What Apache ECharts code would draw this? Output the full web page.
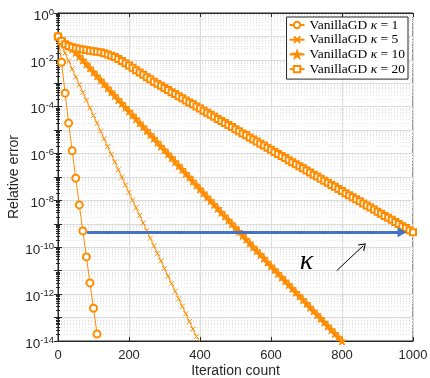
<!DOCTYPE html>
<html>
<head>
<meta charset="utf-8">
<script src="https://cdn.jsdelivr.net/npm/echarts@6/dist/echarts.min.js"></script>
<style>
  html, body { margin: 0; background: #fff; }
  #chart { width: 430px; height: 378px; }
</style>
</head>
<body>
<div id="chart"></div>
<script>
// relative error vs iteration, log10 values, one point every 10 iterations
const step = 10;
const seriesNames = ['VanillaGD κ = 1', 'VanillaGD κ = 5', 'VanillaGD κ = 10', 'VanillaGD κ = 20'];
const logErrK1 = [-1.0, -2.1, -3.42, -4.7, -5.88, -7.05, -8.19, -9.3, -10.41, -11.52, -12.6, -13.7];
const logErrK5 = [
  -1.0, -1.36, -1.71, -2.05, -2.39, -2.73, -3.06, -3.39, -3.72, -4.05,
  -4.38, -4.71, -5.04, -5.37, -5.7, -6.03, -6.36, -6.69, -7.01, -7.34,
  -7.66, -7.99, -8.31, -8.64, -8.96, -9.29, -9.61, -9.94, -10.26, -10.58,
  -10.91, -11.23, -11.55, -11.88, -12.2, -12.52, -12.84, -13.17, -13.49, -13.81,
  -14.05
];
const logErrK10 = [
  -1.0, -1.14, -1.27, -1.4, -1.54, -1.69, -1.85, -2.01, -2.18, -2.35,
  -2.52, -2.69, -2.86, -3.03, -3.2, -3.37, -3.53, -3.7, -3.86, -4.03,
  -4.19, -4.36, -4.52, -4.69, -4.86, -5.02, -5.19, -5.35, -5.52, -5.69,
  -5.85, -6.02, -6.18, -6.35, -6.52, -6.68, -6.85, -7.01, -7.18, -7.35,
  -7.51, -7.68, -7.85, -8.01, -8.18, -8.34, -8.51, -8.67, -8.84, -9.0,
  -9.17, -9.33, -9.5, -9.66, -9.82, -9.99, -10.15, -10.31, -10.47, -10.64,
  -10.8, -10.96, -11.12, -11.28, -11.44, -11.6, -11.76, -11.92, -12.08, -12.24,
  -12.4, -12.56, -12.72, -12.88, -13.04, -13.2, -13.36, -13.52, -13.68, -13.84,
  -14.0
];
const logErrK20 = [
  -1.0, -1.2, -1.33, -1.41, -1.46, -1.5, -1.53, -1.56, -1.58, -1.61,
  -1.63, -1.65, -1.68, -1.72, -1.77, -1.82, -1.88, -1.96, -2.05, -2.14,
  -2.24, -2.34, -2.44, -2.54, -2.64, -2.74, -2.83, -2.93, -3.02, -3.11,
  -3.2, -3.29, -3.38, -3.46, -3.55, -3.64, -3.73, -3.82, -3.9, -3.99,
  -4.08, -4.17, -4.26, -4.34, -4.43, -4.52, -4.61, -4.7, -4.78, -4.87,
  -4.96, -5.05, -5.14, -5.22, -5.31, -5.4, -5.49, -5.58, -5.66, -5.75,
  -5.84, -5.93, -6.02, -6.1, -6.19, -6.28, -6.37, -6.46, -6.54, -6.63,
  -6.72, -6.81, -6.9, -6.98, -7.07, -7.16, -7.25, -7.34, -7.42, -7.51,
  -7.6, -7.69, -7.78, -7.86, -7.95, -8.04, -8.13, -8.22, -8.3, -8.39,
  -8.48, -8.57, -8.66, -8.74, -8.83, -8.92, -9.01, -9.1, -9.18, -9.27,
  -9.36
];
const xTicks = [0, 200, 400, 600, 800, 1000];
// annotations: [iteration, log10 error]
const blueArrow = [[82, -9.36], [969, -9.36]];
const blackArrow = [[785, -11.0], [860, -9.93]];
const kappaLabel = [700, -10.6];

const orange = '#FF8C00';
const axisColor = '#262626';
const starPath = 'path://M5,0L6.2,3.6L10,3.6L6.9,5.9L8.1,9.5L5,7.3L1.9,9.5L3.1,5.9L0,3.6L3.8,3.6Z';
const crossPath = 'path://M0,0L10,10M10,0L0,10';
const chevronPath = 'path://M0,10L5,0L10,10L8.8,10.7L5,2.6L1.2,10.7Z';

const toPairs = (logs) => logs.map((e, i) => [i * step, Math.pow(10, e)]);
const toCoord = (p) => ({coord: [p[0], Math.pow(10, p[1])]});

const chart = echarts.init(document.getElementById('chart'));

const yLabel = {
  color: axisColor,
  margin: 4,
  formatter(v) {
    const e = Math.round(Math.log10(v));
    if (e % 2 !== 0) return '';
    return '{b|10}{s|' + e + '}';
  },
  rich: {
    b: {fontSize: 13.5, fontFamily: 'Liberation Sans', color: axisColor, padding: [6, 0, 0, 0]},
    s: {fontSize: 9.5, fontFamily: 'Liberation Sans', color: axisColor, padding: [0, 0, 2, 0]}
  }
};

const lineSeries = (name, logs, symbol, size, extra) => Object.assign({
  name,
  type: 'line',
  data: toPairs(logs),
  symbol,
  symbolSize: size,
  showSymbol: true,
  showAllSymbol: true,
  color: orange,
  lineStyle: {width: 1, color: orange},
  itemStyle: {color: orange, borderColor: orange, borderWidth: 1},
  emphasis: {disabled: true}
}, extra || {});

chart.setOption({
  animation: false,
  textStyle: {fontFamily: 'Liberation Sans'},
  grid: {left: 58, right: 17, top: 13, bottom: 37, outerBoundsMode: 'none', containLabel: false,
    show: true, borderColor: axisColor, borderWidth: 1},
  legend: {
    data: seriesNames,
    orient: 'vertical',
    right: 22,
    top: 17,
    padding: [1, 3, 3, 2],
    itemGap: 0.7,
    itemWidth: 15,
    itemHeight: 8,
    backgroundColor: '#fff',
    borderColor: axisColor,
    borderWidth: 1,
    textStyle: {fontFamily: 'Liberation Serif', fontSize: 13.5, color: '#000', lineHeight: 14,
      rich: {k: {fontFamily: 'Liberation Serif', fontStyle: 'italic', fontSize: 13.5, color: '#000'}}},
    formatter: (name) => name.replace('κ', '{k|κ}')
  },
  xAxis: [{
    type: 'value',
    min: 0,
    max: 1000,
    interval: 200,
    name: 'Iteration count',
    nameLocation: 'middle',
    nameGap: 23,
    nameMoveOverlap: false,
    nameTextStyle: {color: axisColor, fontSize: 14},
    axisLine: {show: true, lineStyle: {color: axisColor}},
    axisTick: {inside: true, length: 4, lineStyle: {color: axisColor}},
    axisLabel: {color: axisColor, fontSize: 13, margin: 8,
      formatter: (v) => (xTicks.indexOf(v) >= 0 ? String(v) : '')},
    splitLine: {show: true, lineStyle: {color: '#dcdcdc'}}
  }, {
    type: 'value',
    position: 'top',
    min: 0,
    max: 1000,
    interval: 200,
    axisLine: {show: true, lineStyle: {color: axisColor}},
    axisTick: {inside: true, length: 4, lineStyle: {color: axisColor}},
    axisLabel: {show: false},
    splitLine: {show: false}
  }],
  yAxis: [{
    type: 'log',
    logBase: 10,
    min: 1e-14,
    max: 1,
    interval: 1,
    name: 'Relative error',
    nameLocation: 'middle',
    nameGap: 37,
    nameMoveOverlap: false,
    nameTextStyle: {color: axisColor, fontSize: 14},
    axisLine: {show: true, lineStyle: {color: axisColor}},
    axisTick: {inside: true, length: 4, lineStyle: {color: axisColor}},
    minorTick: {show: true, splitNumber: 9, length: 2, lineStyle: {color: axisColor}},
    axisLabel: yLabel,
    splitLine: {show: true, lineStyle: {color: '#dcdcdc'}},
    minorSplitLine: {show: true, lineStyle: {color: '#e3e3e3', type: [1, 2]}}
  }, {
    type: 'log',
    logBase: 10,
    min: 1e-14,
    max: 1,
    interval: 1,
    position: 'right',
    axisLine: {show: true, lineStyle: {color: axisColor}},
    axisTick: {inside: true, length: 4, lineStyle: {color: axisColor}},
    minorTick: {show: true, splitNumber: 9, length: 2, lineStyle: {color: axisColor}},
    axisLabel: {show: false},
    splitLine: {show: false}
  }],
  series: [
    lineSeries(seriesNames[0], logErrK1, 'emptyCircle', 7),
    lineSeries(seriesNames[1], logErrK5, crossPath, 5),
    lineSeries(seriesNames[2], logErrK10, starPath, 8),
    lineSeries(seriesNames[3], logErrK20, 'emptyRect', 6),
    {
      // annotation layer: blue arrow, black arrow, kappa label
      type: 'line',
      data: [],
      silent: true,
      markLine: {
        silent: true,
        animation: false,
        label: {show: false},
        emphasis: {disabled: true},
        data: [
          [Object.assign(toCoord(blueArrow[0]), {symbol: 'none'}),
           Object.assign(toCoord(blueArrow[1]), {symbol: 'triangle', symbolSize: [10, 9]})],
          [Object.assign(toCoord(blackArrow[0]), {symbol: 'none'}),
           Object.assign(toCoord(blackArrow[1]), {symbol: chevronPath, symbolSize: [9, 7]})]
        ].map((seg, i) => {
          seg[0].lineStyle = i === 0
            ? {color: '#4472C4', width: 3, type: 'solid'}
            : {color: '#000', width: 1, type: 'solid'};
          return seg;
        })
      },
      markPoint: {
        silent: true,
        symbol: 'circle',
        symbolSize: 0,
        label: {show: true, formatter: 'κ', fontFamily: 'Liberation Serif', fontStyle: 'italic',
          fontSize: 28, color: '#000'},
        data: [toCoord(kappaLabel)]
      }
    }
  ]
});
</script>
</body>
</html>
